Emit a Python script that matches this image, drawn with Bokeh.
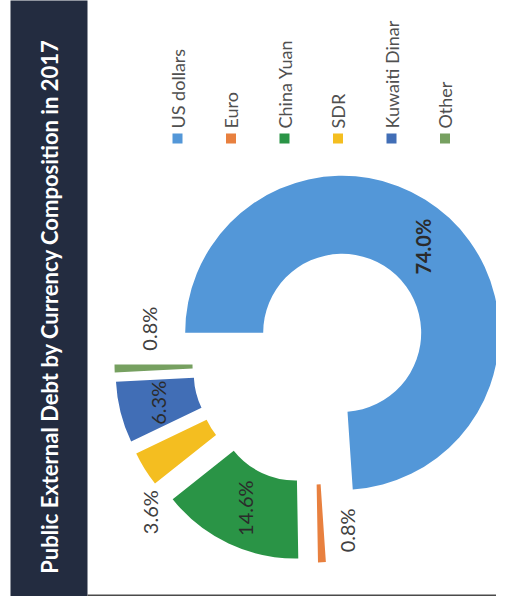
import numpy as np
from bokeh.plotting import figure
from bokeh.models import Range1d
from bokeh.core.properties import value
from bokeh.embed import file_html
from bokeh.resources import INLINE

# ---- data ----
categories = ["US dollars", "Euro", "China Yuan", "SDR", "Kuwaiti Dinar", "Other"]
shares = [74.0, 0.8, 14.6, 3.6, 6.3, 0.8]
labels = ["74.0%", "0.8%", "14.6%", "3.6%", "6.3%", "0.8%"]
colors = ["#5397D8", "#E8803F", "#2A9446", "#F4BE20", "#416EB6", "#76A060"]
title = "Public External Debt by Currency Composition in 2017"

# ---- layout / style ----
W, H = 496, 596
OX, OY = 0, 0          # screen offset of the figure's top-left corner
TOP = 612              # data y = TOP - screen y
cx, cy = 313, TOP - 363
r_in, r_out = 79, 157
explode = 42
inside = [True, False, True, False, True, False]
label_bold = [True, False, False, False, False, False]
out_r = [0, 125, 0, 180, 0, 125]
nudge = [(0, 0), (26, 0), (0, 0), (25, -31), (0, 0), (2, 39)]

p = figure(width=W, height=H, x_range=Range1d(OX, OX + W), y_range=Range1d(TOP - OY - H, TOP - OY),
           output_backend="svg", toolbar_location=None, min_border=0)
p.axis.visible = False
p.grid.visible = False
p.outline_line_color = None
p.background_fill_color = "white"
p.border_fill_color = "white"

# title bar
p.quad(left=10, right=87, bottom=TOP - 603, top=TOP + 10, fill_color="#232C40", line_color=None)
p.text(x=[49], y=[TOP - 306], text=[title], angle=np.pi / 2, text_align="center",
       text_baseline="middle", text_color="white", text_font=value("Lato"),
       text_font_size="22px", text_font_style="bold")
# frame line at bottom
p.segment(x0=[87], y0=[TOP - 595], x1=[520], y1=[TOP - 595], line_color="#4a4a4a", line_width=2)

# donut
vals = np.array(shares, dtype=float)
frac = vals / vals.sum()
cum = np.concatenate([[0], np.cumsum(frac)])
a_start = np.pi - 2 * np.pi * cum[:-1]
a_end = np.pi - 2 * np.pi * cum[1:]
mid = (a_start + a_end) / 2
sx = cx + explode * np.cos(mid)
sy = cy + explode * np.sin(mid)
p.annular_wedge(x=sx, y=sy, inner_radius=r_in, outer_radius=r_out,
                start_angle=a_end, end_angle=a_start, direction="anticlock",
                fill_color=colors, line_color=None)

# data labels
r_mid = (r_in + r_out) / 2
for i, lab in enumerate(labels):
    rr = r_mid if inside[i] else out_r[i]
    lx = sx[i] + rr * np.cos(mid[i]) + nudge[i][0]
    ly = sy[i] + rr * np.sin(mid[i]) + nudge[i][1]
    p.text(x=[lx], y=[ly], text=[lab], angle=np.pi / 2, text_align="center",
           text_baseline="middle", text_color="#2b2b2b" if inside[i] else "#404040",
           text_font=value("Lato"), text_font_size="20px",
           text_font_style="bold" if label_bold[i] else "normal")

# legend (rotated)
lx0, ldx = 177, 53.5
for i, c in enumerate(categories):
    x = lx0 + i * ldx
    p.scatter(x=[x], y=[TOP - 138], marker="square", size=10, fill_color=colors[i], line_color=None)
    p.text(x=[x], y=[TOP - 128], text=[c], angle=np.pi / 2, text_align="left",
           text_baseline="middle", text_color="#505050", text_font=value("Lato"),
           text_font_size="18px")

open("out.html", "w").write(file_html(p, INLINE))
